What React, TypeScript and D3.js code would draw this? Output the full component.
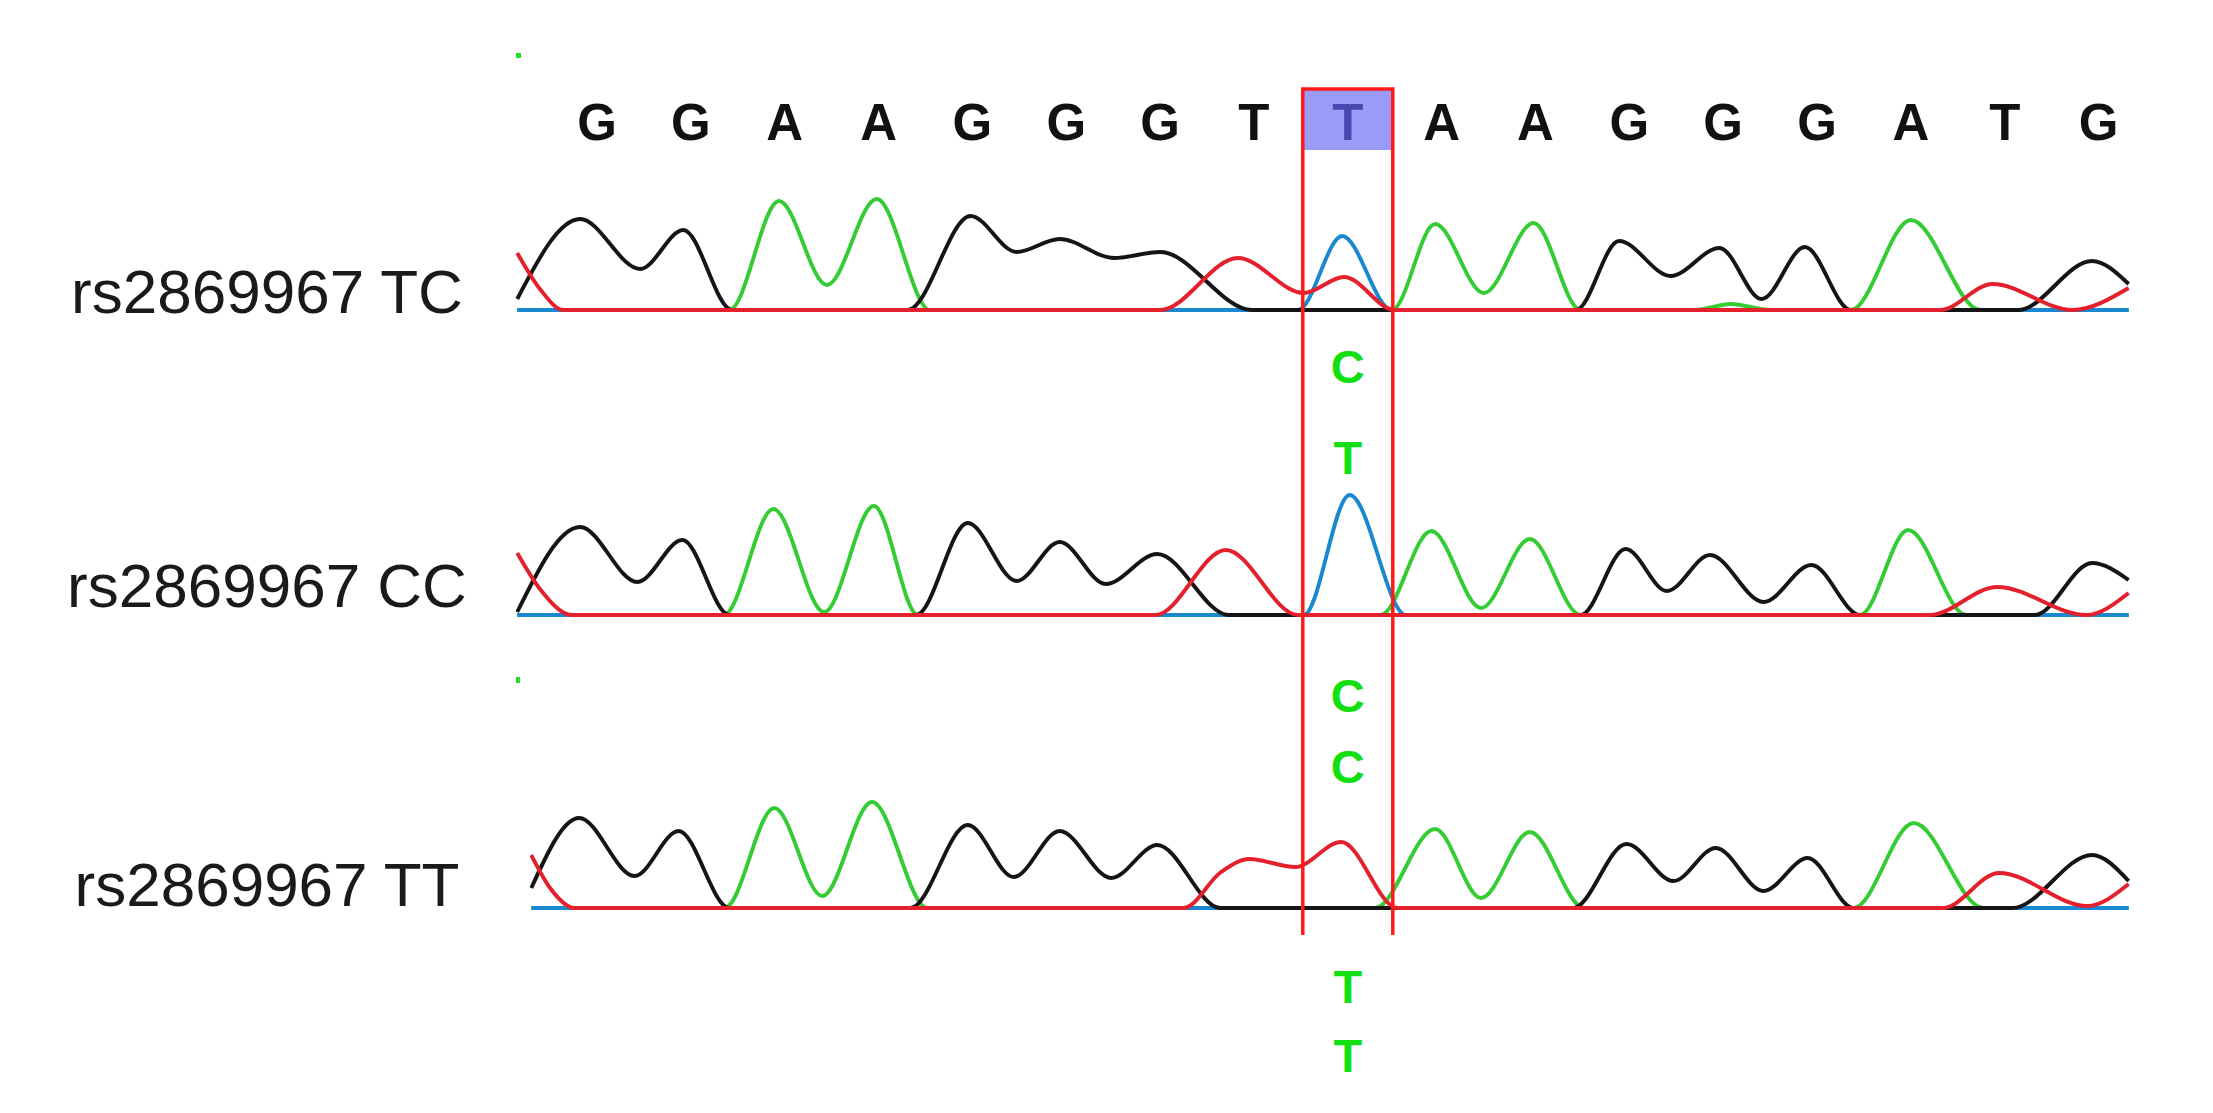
import React from "react";
import * as d3 from "d3";

// ---- data ----
const bases = ["G", "G", "A", "A", "G", "G", "G", "T", "T", "A", "A", "G", "G", "G", "A", "T", "G"];
const highlightIndex = 8;
const sampleLabels = ["rs2869967 TC", "rs2869967 CC", "rs2869967 TT"];
const alleleCallsTop = ["C", "C", "T"];
const alleleCallsBottom = ["T", "C", "T"];

// trace key points: [base position, signal]
const tcG = [[-0.85, 11], [-0.18, 91], [0.46, 41], [0.92, 80], [1.44, 0], [3.31, 0], [3.98, 94], [4.47, 58], [4.93, 71], [5.51, 52], [6.0, 58], [6.98, 0], [10.43, 0], [10.89, 69], [11.44, 34], [11.96, 62], [12.41, 11], [12.87, 63], [13.36, 0], [15.14, 0], [15.93, 49], [16.32, 26]];
const tcA = [[-0.85, 0], [1.41, 0], [1.94, 109], [2.45, 25], [2.98, 111], [3.55, 0], [8.47, 0], [8.93, 86], [9.45, 17], [9.98, 87], [10.48, 0], [11.7, 0], [12.08, 6], [12.5, 0], [13.36, 0], [14.0, 90], [14.74, 0], [16.32, 0]];
const tcT = [[-0.85, 57], [-0.6, 20], [-0.36, 0], [6.0, 0], [6.83, 52], [7.53, 17], [7.96, 33], [8.5, 0], [14.31, 0], [14.87, 26], [15.72, 0], [16.32, 22]];
const tcC = [[-0.85, 0], [7.47, 0], [7.94, 74], [8.47, 0], [16.32, 0]];

const ccG = [[-0.85, 3], [-0.18, 88], [0.43, 33], [0.91, 75], [1.41, 0], [3.4, 0], [3.95, 92], [4.47, 34], [4.93, 73], [5.42, 31], [5.97, 61], [6.73, 0], [10.48, 0], [10.96, 66], [11.4, 24], [11.86, 60], [12.43, 13], [12.94, 50], [13.46, 0], [15.32, 0], [15.93, 52], [16.32, 35]];
const ccA = [[-0.85, 0], [1.35, 0], [1.88, 106], [2.42, 3], [2.95, 109], [3.42, 0], [8.35, 0], [8.89, 84], [9.42, 7], [9.94, 76], [10.48, 0], [13.46, 0], [13.97, 85], [14.59, 0], [16.32, 0]];
const ccT = [[-0.85, 62], [-0.6, 25], [-0.27, 0], [5.95, 0], [6.7, 65], [7.47, 0], [14.2, 0], [14.92, 28], [15.87, 0], [16.32, 22]];
const ccC = [[-0.85, 0], [7.53, 0], [8.02, 120], [8.62, 0], [16.32, 0]];

const ttG = [[-0.7, 20], [-0.19, 90], [0.4, 32], [0.87, 77], [1.41, 0], [3.34, 0], [3.95, 83], [4.44, 31], [4.93, 77], [5.48, 30], [5.97, 63], [6.64, 0], [10.4, 0], [10.97, 64], [11.47, 27], [11.92, 60], [12.43, 17], [12.9, 50], [13.39, 0], [15.08, 0], [15.93, 53], [16.32, 27]];
const ttA = [[-0.7, 0], [1.36, 0], [1.89, 100], [2.4, 12], [2.93, 106], [3.52, 0], [8.29, 0], [8.93, 79], [9.42, 10], [9.94, 76], [10.52, 0], [13.39, 0], [14.03, 85], [14.77, 0], [16.32, 0]];
const ttT = [[-0.7, 53], [-0.5, 20], [-0.24, 0], [6.25, 0], [6.65, 36], [6.95, 49], [7.44, 41], [7.93, 66], [8.53, 0], [14.34, 0], [14.94, 35], [15.88, 2], [16.32, 24]];
const ttC = [[-0.7, 0], [16.32, 0]];

const tracks = [
  { G: tcG, A: tcA, T: tcT, C: tcC },
  { G: ccG, A: ccA, T: ccT, C: ccC },
  { G: ttG, A: ttA, T: ttT, C: ttC },
];

// ---- layout ----
const W = 2213;
const H = 1113;
const baselines = [310, 615, 908];
const labelBaselines = [313, 607, 906];
const callTopY = [383, 712, 1003];
const callBottomY = [474, 783, 1072];

const colors = { G: "#151515", A: "#33cc33", T: "#e3202c", C: "#1a88d0" };
const drawOrder = ["A", "C", "G", "T"];

export default function App() {
  const x = d3.scaleLinear().domain([0, 16]).range([597, 597 + 16 * 93.85]);
  const half = 45;
  const hx = x(highlightIndex);
  const boxTop = 89;
  const boxBottom = 935;

  return (
    <svg
      width={W}
      height={H}
      style={{ position: "absolute", left: 0, top: 0, background: "#fff" }}
      fontFamily="'Liberation Sans', Arial, sans-serif"
    >
      <rect x={0} y={0} width={W} height={H} fill="#fff" />
      {/* highlight */}
      <rect x={hx - half} y={boxTop} width={half * 2} height={61} fill="#9a9af7" />
      {/* base calls */}
      {bases.map((b, i) => (
        <text
          key={i}
          x={x(i)}
          y={140}
          textAnchor="middle"
          fontSize={51}
          fontWeight="bold"
          fill={i === highlightIndex ? "#4a46b0" : "#111"}
        >
          {b}
        </text>
      ))}
      {/* small green marks */}
      <rect x={516} y={53} width={5} height={5} fill="#22dd22" />
      <rect x={516} y={677} width={4} height={6} fill="#22dd22" />
      {/* traces */}
      {tracks.map((tr, ti) => {
        const y = d3.scaleLinear().domain([0, 100]).range([baselines[ti], baselines[ti] - 100]);
        const line = d3
          .line<number[]>()
          .x((d) => x(d[0]))
          .y((d) => y(d[1]))
          .curve(d3.curveMonotoneX);
        return (
          <g key={ti}>
            {drawOrder.map((k) => (
              <path
                key={k}
                d={line((tr as any)[k]) || ""}
                fill="none"
                stroke={(colors as any)[k]}
                strokeWidth={3.9}
                strokeLinejoin="round"
              />
            ))}
          </g>
        );
      })}
      {/* sample labels */}
      {sampleLabels.map((s, i) => (
        <text key={s} x={267} y={labelBaselines[i]} textAnchor="middle" fontSize={62} fill="#1a1a1a">
          {s}
        </text>
      ))}
      {/* genotype calls */}
      {alleleCallsTop.map((c, i) => (
        <text key={"t" + i} x={hx} y={callTopY[i]} textAnchor="middle" fontSize={47} fontWeight="bold" fill="#12e012">
          {c}
        </text>
      ))}
      {alleleCallsBottom.map((c, i) => (
        <text key={"b" + i} x={hx} y={callBottomY[i]} textAnchor="middle" fontSize={47} fontWeight="bold" fill="#12e012">
          {c}
        </text>
      ))}
      {/* red box */}
      <path
        d={`M${hx - half},${boxBottom}V${boxTop}H${hx + half}V${boxBottom}`}
        fill="none"
        stroke="#ff1a1a"
        strokeWidth={3.5}
      />
    </svg>
  );
}
